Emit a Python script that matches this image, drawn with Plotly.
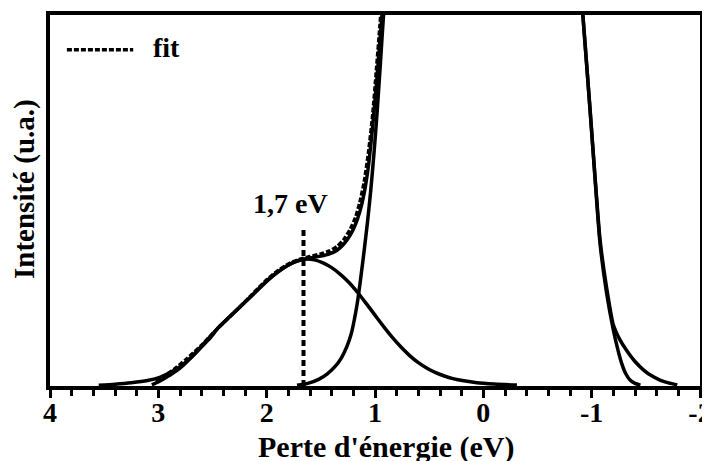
import plotly.graph_objects as go

# ---- data (energy loss in eV, intensity in arbitrary units) ----
meas_x = [3.55, 3.4, 3.25, 3.1, 2.98, 2.88, 2.8, 2.7, 2.6, 2.52, 2.45, 2.38, 2.32, 2.25, 2.15, 2.05,
          1.95, 1.85, 1.75, 1.65, 1.58, 1.5, 1.42, 1.35, 1.29, 1.23, 1.18, 1.14, 1.1, 1.06, 1.02,
          0.985, 0.955, 0.93, 0.85, 0.7, 0.4, 0.0, -0.4, -0.7, -0.86, -0.92, -0.985, -1.03,
          -1.077, -1.138, -1.2, -1.26, -1.32, -1.4, -1.48, -1.55, -1.63, -1.7, -1.79]
meas_y = [0.2, 0.5, 0.9, 1.5, 2.4, 3.8, 5.2, 7.6, 10.6, 13.0, 15.6, 17.6, 19.3, 21.2, 24.0, 26.9,
          29.6, 31.7, 33.3, 34.2, 34.6, 35.0, 35.6, 36.6, 38.2, 40.6, 43.6, 47.0, 52.0, 59.5, 70.5,
          82.0, 93.0, 102.0, 130, 190, 300, 360, 300, 190, 125, 99.5, 74.6, 56.8,
          39.5, 26.5, 16.5, 12.5, 9.7, 6.6, 4.3, 2.8, 1.6, 0.9, 0.3]

fit_x = [3.02, 2.95, 2.85, 2.75, 2.6, 2.45, 2.3, 2.15, 2.0, 1.9, 1.8, 1.7, 1.6, 1.5, 1.42, 1.35,
         1.29, 1.23, 1.18, 1.14, 1.1, 1.06, 1.02, 0.985, 0.955, 0.94]
fit_y = [1.2, 2.6, 4.6, 7.0, 11.0, 15.6, 19.8, 24.2, 28.6, 31.0, 32.9, 34.1, 34.9, 35.6, 36.4, 37.6,
         39.4, 42.2, 45.4, 49.5, 55.0, 63.0, 73.5, 86.0, 97.0, 103.0]

gauss_x = [3.06, 2.98, 2.9, 2.8, 2.7, 2.6, 2.45, 2.3, 2.15, 2.0, 1.9, 1.8, 1.72, 1.64, 1.56, 1.48,
           1.4, 1.32, 1.24, 1.16, 1.08, 1.0, 0.92, 0.84, 0.76, 0.68, 0.6, 0.52, 0.44, 0.36, 0.28,
           0.18, 0.06, -0.1, -0.31]
gauss_y = [0.3, 1.4, 2.8, 4.8, 7.6, 10.8, 15.6, 19.8, 24.0, 28.2, 30.6, 32.6, 33.7, 34.2, 34.0, 33.2,
           31.9, 30.1, 27.9, 25.2, 22.2, 19.1, 16.0, 13.1, 10.5, 8.2, 6.3, 4.8, 3.6, 2.7, 2.0,
           1.4, 0.9, 0.55, 0.25]

zlp_x = [1.72, 1.62, 1.52, 1.44, 1.37, 1.31, 1.26, 1.22, 1.19, 1.16, 1.13, 1.1, 1.07, 1.04, 1.01,
         0.98, 0.95, 0.92, 0.85, 0.6, 0.0, -0.6, -0.85, -0.92, -0.985, -1.03, -1.077, -1.138,
         -1.2, -1.24, -1.277, -1.315, -1.354, -1.4, -1.45]
zlp_y = [0.2, 0.7, 1.8, 3.3, 5.2, 7.6, 10.6, 14.0, 18.0, 23.0, 29.5, 36.5, 44.0, 52.5, 62.5,
         74.0, 87.0, 100.5, 125, 230, 330, 230, 122, 99.5, 74.4, 56.4, 38.5, 25.0,
         15.1, 10.0, 6.1, 3.3, 1.6, 0.7, 0.25]

peak_energy = 1.66      # position of the marked plasmon peak
peak_marker_top = 42.5  # top of the dashed marker
peak_label = "1,7 eV"

x_ticks = [4, 3, 2, 1, 0, -1, -2]
x_tick_labels = ["4", "3", "2", "1", "0", "-1", "-2"]

FONT = "Liberation Serif, Times New Roman, serif"
black = "#000000"
LW = 3.5

fig = go.Figure()

fig.add_trace(go.Scatter(x=gauss_x, y=gauss_y, mode="lines", name="gaussienne",
                         line=dict(color=black, width=LW, shape="spline", smoothing=0.8)))
fig.add_trace(go.Scatter(x=zlp_x, y=zlp_y, mode="lines", name="pic élastique",
                         line=dict(color=black, width=LW, shape="spline", smoothing=0.6)))
fig.add_trace(go.Scatter(x=meas_x, y=meas_y, mode="lines", name="mesure",
                         line=dict(color=black, width=LW, shape="spline", smoothing=0.6)))
fig.add_trace(go.Scatter(x=fit_x, y=fit_y, mode="lines", name="fit",
                         line=dict(color=black, width=3.5, dash="5px,2px", shape="spline", smoothing=0.6)))
fig.add_trace(go.Scatter(x=[peak_energy, peak_energy], y=[0, peak_marker_top], mode="lines",
                         name="pic", line=dict(color=black, width=4, dash="6px,4px")))

# manual legend for the fit
fig.add_shape(type="line", xref="paper", yref="paper", x0=0.026, x1=0.128, y0=0.906, y1=0.906,
              line=dict(color=black, width=3.5, dash="5px,2px"))
fig.add_annotation(xref="paper", yref="paper", x=0.155, y=0.912, text="fit", showarrow=False,
                   xanchor="left", yanchor="middle",
                   font=dict(family=FONT, size=28, color=black, weight="bold"))

fig.add_annotation(x=peak_energy, y=peak_marker_top, xref="x", yref="y", text=peak_label,
                   showarrow=False, xshift=-13, yshift=25,
                   font=dict(family=FONT, size=28, color=black, weight="bold"))

# axis titles placed as annotations for precise positioning
fig.add_annotation(xref="paper", yref="paper", x=0.517, y=0, yshift=-61, text="Perte d'énergie (eV)",
                   showarrow=False, xanchor="center", yanchor="middle",
                   font=dict(family=FONT, size=30, color=black, weight="bold"))
fig.add_annotation(xref="paper", yref="paper", x=-0.0385, y=0.531, text="Intensité (u.a.)",
                   textangle=-90, showarrow=False, xanchor="center", yanchor="middle",
                   font=dict(family=FONT, size=29, color=black, weight="bold"))

fig.update_xaxes(range=[4, -2], tickmode="array", tickvals=x_ticks, ticktext=x_tick_labels,
                 ticks="outside", ticklen=8, tickwidth=3, tickcolor=black,
                 minor=dict(dtick=0.2, ticks="outside", ticklen=6, tickwidth=3, tickcolor=black),
                 showline=True, linewidth=4, linecolor=black, mirror=True, showgrid=False,
                 zeroline=False, automargin=False, ticklabeloverflow="allow",
                 ticklabelstandoff=-10,
                 tickfont=dict(family=FONT, size=28, color=black, weight="bold"))
fig.update_yaxes(range=[0, 100], showticklabels=False, ticks="", showline=True, linewidth=4,
                 linecolor=black, mirror=True, showgrid=False, zeroline=False, automargin=False)

# the page body adds an 8 px offset, so the figure is 8 px smaller and margins are shifted
fig.update_layout(width=702, height=453, margin=dict(l=42, r=10, t=7, b=75),
                  paper_bgcolor="white", plot_bgcolor="white", showlegend=False)

fig.write_html("out.html")
